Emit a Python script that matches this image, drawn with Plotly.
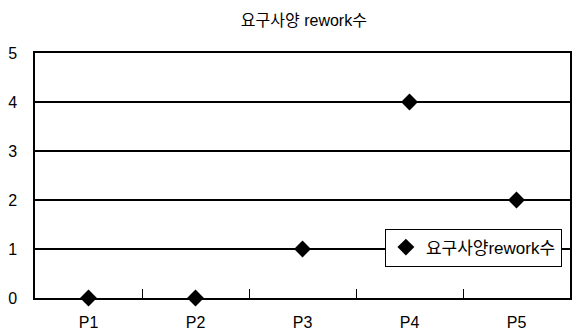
import plotly.graph_objects as go

categories = ["P1", "P2", "P3", "P4", "P5"]
values = [0, 0, 1, 4, 2]
series_name = "요구사양rework수"
title_text = "요구사양 rework수"
y_ticks = [0, 1, 2, 3, 4, 5]

FONT = "Liberation Sans, Arial, Noto Sans CJK KR, sans-serif"

fig = go.Figure()
fig.add_trace(go.Scatter(
    x=categories, y=values, mode="markers", name=series_name,
    marker=dict(symbol="diamond", size=13, color="black"),
    cliponaxis=False,
))

fig.update_layout(
    width=581, height=333,
    margin=dict(l=35, r=11, t=53, b=35, autoexpand=False),
    paper_bgcolor="white", plot_bgcolor="white",
    font=dict(family=FONT, color="black", size=16),
    title=dict(text=title_text, x=0.523, xanchor="center", y=0.94, yanchor="middle",
               font=dict(size=16, family=FONT)),
    showlegend=True,
    legend=dict(x=0.654, y=0.206, xanchor="left", yanchor="middle",
                bordercolor="black", borderwidth=1, bgcolor="white",
                font=dict(size=17, family=FONT), itemwidth=30,
                tracegroupgap=0),
    xaxis=dict(
        type="category", range=[-0.5, 4.5], automargin=False,
        showline=True, linecolor="black", linewidth=1.5, mirror=True,
        ticks="inside", tickson="boundaries", ticklen=9, tickcolor="black",
        showgrid=False, tickfont=dict(size=16), ticklabelstandoff=9,
    ),
    yaxis=dict(
        range=[0, 5], tickvals=y_ticks, automargin=False,
        showline=True, linecolor="black", linewidth=1.5, mirror=True,
        showgrid=True, gridcolor="black", gridwidth=1.5,
        zeroline=False, ticks="", tickfont=dict(size=16), ticklabelstandoff=13,
    ),
)

fig.write_html("out.html", config={"displayModeBar": False},
               post_script="document.body.style.margin='0';")
